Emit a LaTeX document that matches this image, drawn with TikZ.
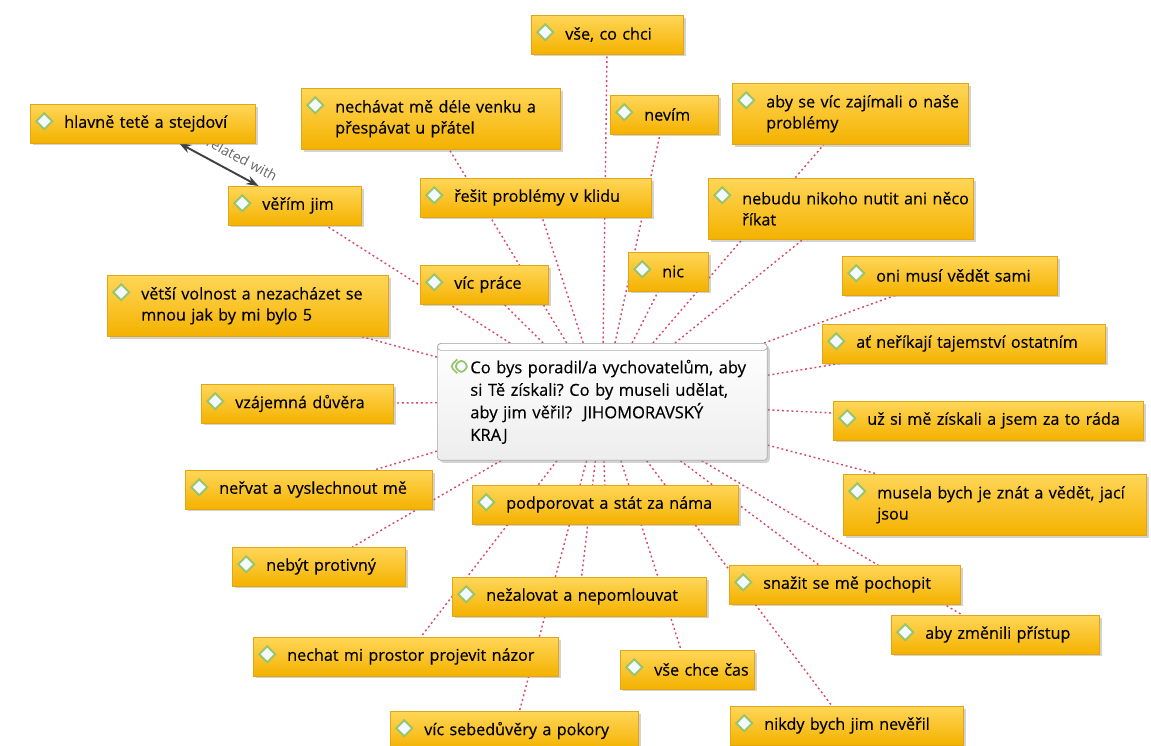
\documentclass[tikz,border=0pt]{standalone}
\usepackage{fontspec}
\setmainfont{Open Sans}
\newfontfamily\codefont{Open Sans}[FakeBold=0.3]
\usetikzlibrary{arrows.meta,shadows,backgrounds}

\definecolor{codetop}{RGB}{255,214,88}
\definecolor{codebot}{RGB}{244,178,0}
\definecolor{codeedge}{RGB}{226,166,20}
\definecolor{linkred}{RGB}{214,72,104}
\definecolor{iconline}{RGB}{152,196,108}
\definecolor{iconfill}{RGB}{242,250,255}

\tikzset{
  codebox/.style={anchor=north west, rectangle, draw=codeedge, line width=0.3pt,
    top color=codetop, bottom color=codebot,
    drop shadow={opacity=0.35, shadow xshift=1.4pt, shadow yshift=-1.4pt},
    inner xsep=0pt, inner ysep=2pt, align=left, text=black,
    node font=\codefont\fontsize{9.2}{12}\selectfont,
    execute at begin node={\frenchspacing\leftskip=0.68cm\rightskip=-1.5cm plus 1fil},
    path picture={
      \draw[iconline, line width=1.1pt, fill=iconfill]
        ([shift={(14,17)}]path picture bounding box.north west)
        +(-8,0) -- +(0,-8) -- +(8,0) -- +(0,8) -- cycle;}},
  one/.style={minimum height=0.77cm},
  two/.style={minimum height=1.22cm},
  question/.style={anchor=north west, rectangle, rounded corners=2pt,
    draw=gray!65, top color=white, bottom color=gray!14,
    drop shadow={opacity=0.35, shadow xshift=1.4pt, shadow yshift=-1.4pt},
    inner xsep=0pt, align=left, text=black,
    node font=\codefont\fontsize{9.4}{12.8}\selectfont,
    execute at begin node={\frenchspacing\leftskip=0.66cm\rightskip=-1.5cm plus 1fil},
    path picture={
      \draw[gray!65, fill=white] (path picture bounding box.north west)
        rectangle ([shift={(0,7)}]path picture bounding box.north east);
      \draw[iconline, line width=1pt]
        ([shift={(15,23)}]path picture bounding box.north west)
        +(5,-7) -- +(-2,0) -- +(5,7);
      \draw[iconline, line width=1pt, fill=iconfill]
        ([shift={(24,23)}]path picture bounding box.north west)
        +(-7,0) -- +(0,-7) -- +(7,0) -- +(0,7) -- cycle;}},
  link/.style={draw=linkred, line width=0.8pt, dash pattern=on 1.1pt off 1.6pt},
  rel/.style={{Stealth[length=7pt,width=5pt]}-{Stealth[length=7pt,width=5pt]},
    draw=black!75, line width=1.1pt},
  rellabel/.style={sloped, above, text=black!60, inner sep=5.5pt,
    font=\fontsize{8}{9}\selectfont},
}

\begin{document}
\begin{tikzpicture}[x=0.02cm, y=-0.02cm]
  \useasboundingbox (0,0) rectangle (1151,745);

  % the question in the middle
  \node[question, text width=6.6cm, minimum height=2.34cm] (q) at (437,343)
    {Co bys poradil/a vychovatelům, aby\\si Tě získali? Co by museli udělat,\\aby jim věřil?\ \ JIHOMORAVSKÝ\\KRAJ};

  % answers, top half
  \node[codebox, one, text width=3.04cm] (vse) at (531,15) {vše, co chci};
  \node[codebox, one, text width=4.5cm] (hlavne) at (30,104) {hlavně tetě a stejdoví};
  \node[codebox, two, text width=5.18cm] (nechavat) at (301,88) {nechávat mě déle venku a\\přespávat u přátel};
  \node[codebox, one, text width=2.16cm] (nevim) at (610,95) {nevím};
  \node[codebox, two, text width=4.72cm] (zajimali) at (732,83) {aby se víc zajímali o naše\\problémy};
  \node[codebox, one, text width=2.66cm] (verim) at (228,186) {věřím jim};
  \node[codebox, one, text width=4.62cm] (resit) at (420,178) {řešit problémy v klidu};
  \node[codebox, two, text width=5.3cm] (nebudu) at (708,178) {nebudu nikoho nutit ani něco\\říkat};
  \node[codebox, one, text width=2.56cm] (vicprace) at (420,265) {víc práce};
  \node[codebox, one, text width=1.6cm] (nic) at (628,252) {nic};
  \node[codebox, two, text width=5.62cm] (volnost) at (107,275) {větší volnost a nezacházet se\\mnou jak by mi bylo 5};
  \node[codebox, one, text width=4.3cm] (onimusi) at (842,256) {oni musí vědět sami};
  \node[codebox, one, text width=5.66cm] (netajit) at (822,324) {ať neříkají tajemství ostatním};
  \node[codebox, one, text width=3.84cm] (duvera) at (201,384) {vzájemná důvěra};
  \node[codebox, one, text width=6.2cm] (ziskali) at (833,401) {už si mě získali a jsem za to ráda};

  % answers, bottom half
  \node[codebox, one, text width=4.94cm] (nervat) at (185,470) {neřvat a vyslechnout mě};
  \node[codebox, one, text width=5.32cm] (podporovat) at (472,485) {podporovat a stát za náma};
  \node[codebox, two, text width=6.06cm] (znat) at (843,474) {musela bych je znát a vědět, jací\\jsou};
  \node[codebox, one, text width=3.46cm] (protivny) at (232,547) {nebýt protivný};
  \node[codebox, one, text width=5.08cm] (nezalovat) at (452,577) {nežalovat a nepomlouvat};
  \node[codebox, one, text width=4.62cm] (pochopit) at (729,565) {snažit se mě pochopit};
  \node[codebox, one, text width=4.16cm] (pristup) at (891,615) {aby změnili přístup};
  \node[codebox, one, text width=6.1cm] (prostor) at (253,637) {nechat mi prostor projevit názor};
  \node[codebox, one, text width=2.68cm] (cas) at (620,650) {vše chce čas};
  \node[codebox, one, text width=4.96cm] (sebeduvera) at (390,711) {víc sebedůvěry a pokory};
  \node[codebox, one, text width=4.66cm] (neveril) at (730,706) {nikdy bych jim nevěřil};

  % links, behind the boxes
  \begin{scope}[on background layer]
    \foreach \n in {vse,nechavat,nevim,zajimali,verim,resit,nebudu,vicprace,nic,
        volnost,onimusi,netajit,duvera,ziskali,nervat,podporovat,znat,protivny,
        nezalovat,pochopit,pristup,prostor,cas,sebeduvera,neveril}
      \draw[link] (q) -- (\n);
    \draw[rel] (hlavne) -- node[rellabel, pos=0.62] {is related with} (verim);
  \end{scope}
\end{tikzpicture}
\end{document}
